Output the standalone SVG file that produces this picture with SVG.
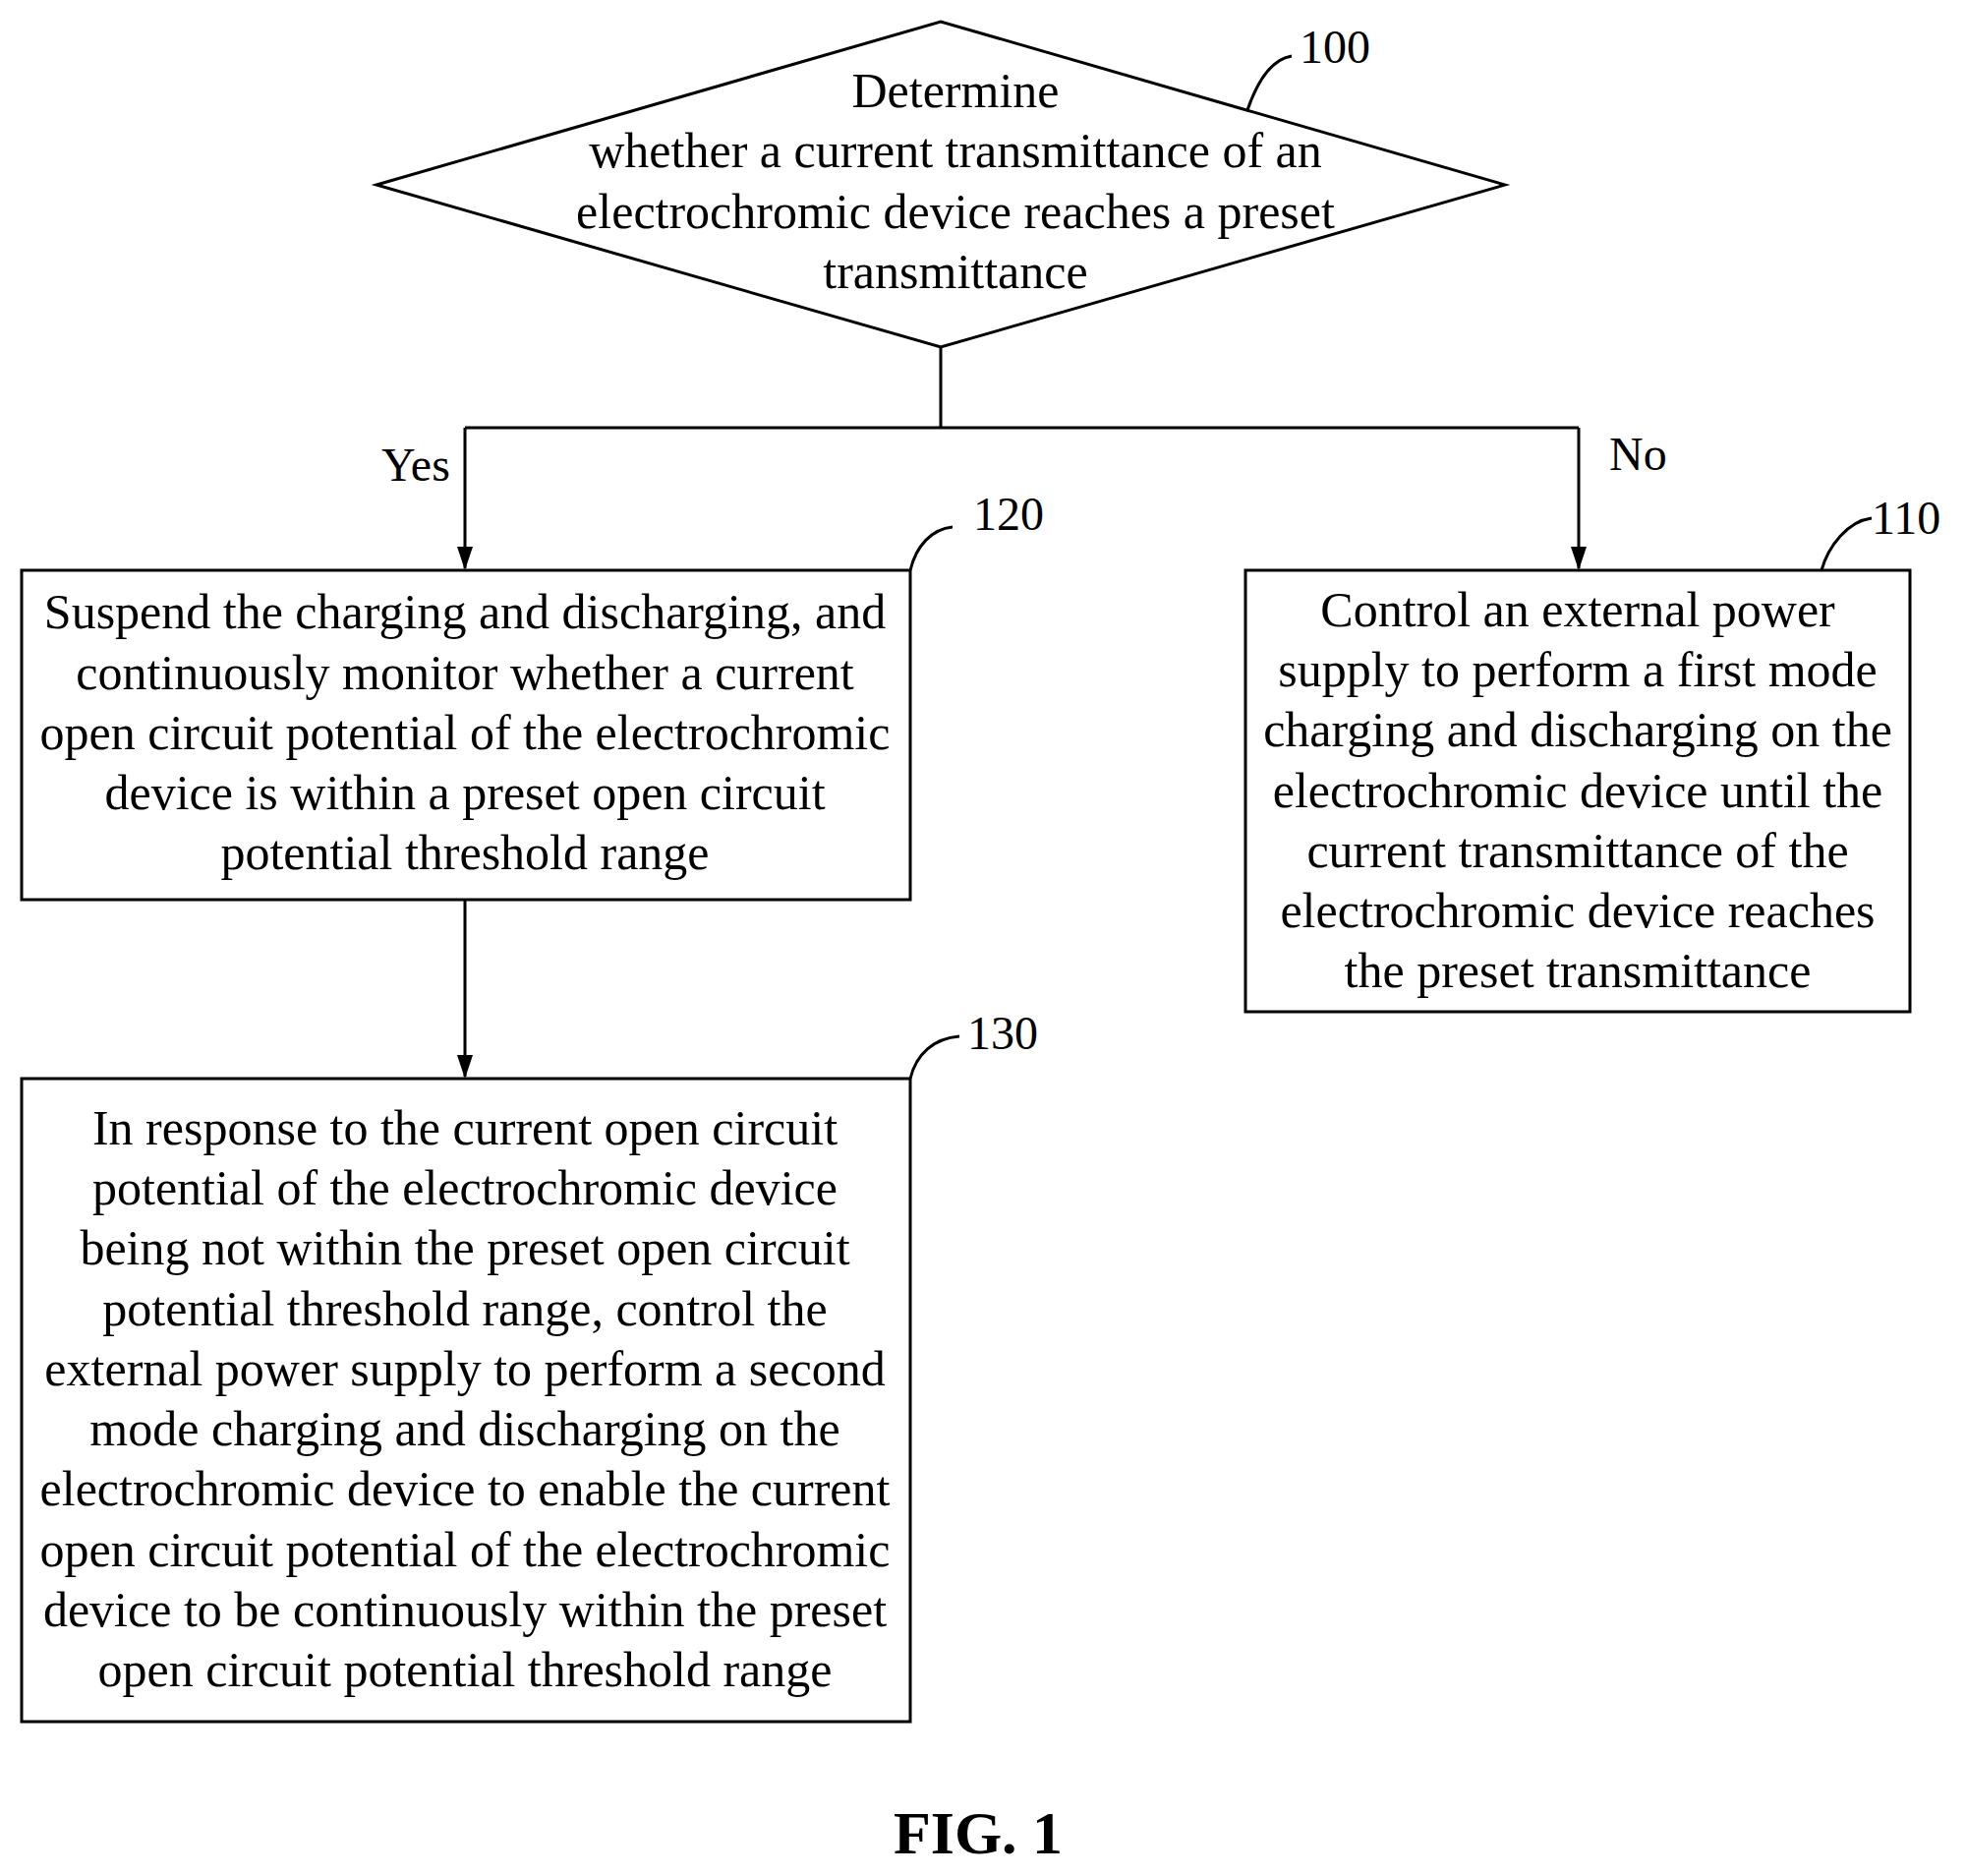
<svg xmlns="http://www.w3.org/2000/svg" width="2000" height="1908" viewBox="0 0 2000 1908">
<style>
.s{fill:none;stroke:#000;stroke-width:3}
.t{font-family:"Liberation Serif",serif;font-size:50px;text-anchor:middle;fill:#000}
.l{font-family:"Liberation Serif",serif;font-size:48px;fill:#000}
</style>
<defs>
<marker id="b" markerWidth="24" markerHeight="28" refX="22" refY="8" orient="auto" markerUnits="userSpaceOnUse"><path d="M0,0 L24,8 L0,16 z" fill="#000"/></marker></defs>
<rect width="2000" height="1908" fill="#fff"/>
<g id="n100"><polygon class="s" points="383,188 957,22 1531,188 957,353"/>
<text class="t" x="972" y="109">Determine</text>
<text class="t" x="972" y="170">whether a current transmittance of an</text>
<text class="t" x="972" y="232">electrochromic device reaches a preset</text>
<text class="t" x="972" y="293">transmittance</text>
<path class="s" d="M1269,112 C1280,80 1295,60 1314,57"/><text class="l" x="1322" y="64">100</text></g>
<g id="n120"><rect class="s" x="22" y="580" width="904" height="335"/>
<text class="t" x="473" y="639">Suspend the charging and discharging, and</text>
<text class="t" x="473" y="701">continuously monitor whether a current</text>
<text class="t" x="473" y="762">open circuit potential of the electrochromic</text>
<text class="t" x="473" y="823">device is within a preset open circuit</text>
<text class="t" x="473" y="884">potential threshold range</text>
<path class="s" d="M926,580 C932,555 948,538 969,536"/><text class="l" x="990" y="539">120</text></g>
<g id="n110"><rect class="s" x="1267" y="580" width="676" height="449"/>
<text class="t" x="1605" y="637">Control an external power</text>
<text class="t" x="1605" y="698">supply to perform a first mode</text>
<text class="t" x="1605" y="759">charging and discharging on the</text>
<text class="t" x="1605" y="821">electrochromic device until the</text>
<text class="t" x="1605" y="882">current transmittance of the</text>
<text class="t" x="1605" y="943">electrochromic device reaches</text>
<text class="t" x="1605" y="1004">the preset transmittance</text>
<path class="s" d="M1853,580 C1860,555 1880,530 1904,527"/><text class="l" x="1904" y="543">110</text></g>
<g id="n130"><rect class="s" x="22" y="1097" width="904" height="654"/>
<text class="t" x="473" y="1164">In response to the current open circuit</text>
<text class="t" x="473" y="1225">potential of the electrochromic device</text>
<text class="t" x="473" y="1286">being not within the preset open circuit</text>
<text class="t" x="473" y="1348">potential threshold range, control the</text>
<text class="t" x="473" y="1409">external power supply to perform a second</text>
<text class="t" x="473" y="1470">mode charging and discharging on the</text>
<text class="t" x="473" y="1531">electrochromic device to enable the current</text>
<text class="t" x="473" y="1593">open circuit potential of the electrochromic</text>
<text class="t" x="473" y="1654">device to be continuously within the preset</text>
<text class="t" x="473" y="1715">open circuit potential threshold range</text>
<path class="s" d="M926,1097 C932,1072 950,1056 976,1054"/><text class="l" x="984" y="1067">130</text></g>
<g id="connectors">
<path class="s" d="M957,353 V435 M473,435 H1606"/>
<path class="s" d="M473,435 V578" marker-end="url(#b)"/>
<path class="s" d="M1606,435 V578" marker-end="url(#b)"/>
<path class="s" d="M473,915 V1095" marker-end="url(#b)"/>
<text class="l" x="388" y="489">Yes</text>
<text class="l" x="1637" y="478">No</text>
</g>
<text x="995" y="1885" style="font-family:'Liberation Serif',serif;font-size:62px;font-weight:bold;text-anchor:middle">FIG. 1</text>
</svg>
